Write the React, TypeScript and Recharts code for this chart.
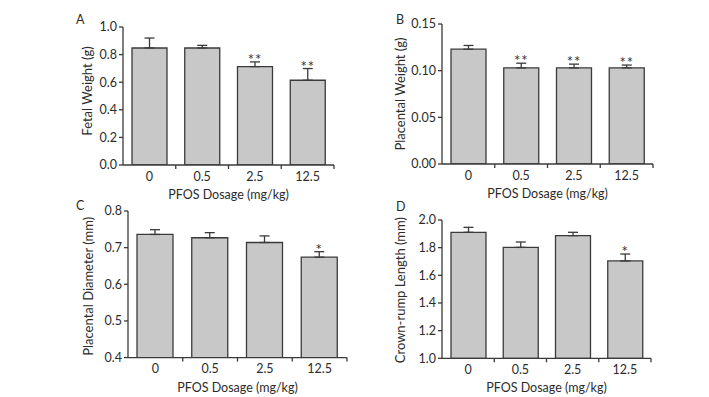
import React from 'react'
import { BarChart, Bar, XAxis, YAxis, ErrorBar, LabelList } from 'recharts'

// dose groups (mg/kg)
const doses = ['0', '0.5', '2.5', '12.5']

// A: fetal weight (g)
const fetalWeight = [0.848, 0.848, 0.713, 0.614]
const fetalWeightErr = [0.072, 0.019, 0.034, 0.085]
const fetalWeightSig = ['', '', '**', '**']

// B: placental weight (g)
const placentalWeight = [0.123, 0.103, 0.103, 0.103]
const placentalWeightErr = [0.004, 0.005, 0.004, 0.003]
const placentalWeightSig = ['', '**', '**', '**']

// C: placental diameter (mm)
const placentalDiameter = [0.736, 0.727, 0.714, 0.674]
const placentalDiameterErr = [0.013, 0.014, 0.018, 0.015]
const placentalDiameterSig = ['', '', '', '*']

// D: crown-rump length (mm)
const crownRump = [1.911, 1.802, 1.887, 1.704]
const crownRumpErr = [0.036, 0.039, 0.024, 0.05]
const crownRumpSig = ['', '', '', '*']

const ticksA = [0, 0.2, 0.4, 0.6, 0.8, 1.0]
const ticksB = [0, 0.05, 0.1, 0.15]
const ticksC = [0.4, 0.5, 0.6, 0.7, 0.8]
const ticksD = [1.0, 1.2, 1.4, 1.6, 1.8, 2.0]

const FONT = 'Lato, "Open Sans", sans-serif'
const INK = '#2b2b2b'
const AXIS = '#3a3a3a'
const Y_W = 60
const TOP = 10
const X_H = 42
const TICK_SIZE = 5
const TICK_MARGIN = 2

interface PanelProps {
  letter: string
  letterX: number
  letterY: number
  plotLeft: number
  plotRight: number
  plotTop: number
  plotBottom: number
  values: number[]
  errors: number[]
  sig: string[]
  ticks: number[]
  digits: number
  yLabel: string
  yLabelX: number
  yLabelShift: number
  barSize: number
}

const DoseTick = (props: any) => {
  const { x, y, payload, width, visibleTicksCount } = props
  const axisY = y - TICK_SIZE - TICK_MARGIN
  let half = payload && payload.offset ? payload.offset : 0
  if (!half && width && visibleTicksCount) half = width / visibleTicksCount / 2
  return (
    <g>
      <text x={x} y={y} dy="0.71em" textAnchor="middle" fill={INK} fontSize={12.5} fontFamily={FONT}>
        {payload.value}
      </text>
      {half > 0 && (
        <line x1={x + half} x2={x + half} y1={axisY} y2={axisY + 4} stroke={AXIS} strokeWidth={1.3} />
      )}
    </g>
  )
}

const Panel: React.FC<PanelProps> = (p) => {
  const plotW = p.plotRight - p.plotLeft
  const plotH = p.plotBottom - p.plotTop
  const width = plotW + Y_W + 10
  const height = TOP + plotH + X_H
  const min = p.ticks[0]
  const max = p.ticks[p.ticks.length - 1]
  const data = doses.map((d, i) => ({
    dose: d,
    value: p.values[i],
    err: [0, p.errors[i]],
    sig: p.sig[i],
  }))

  const renderSig = (lp: any) => {
    const { x, y, width: w, height: h, index } = lp
    const s = p.sig[index]
    if (!s) return null
    const v = p.values[index]
    const errTop = y - (p.errors[index] * h) / (v - min)
    return (
      <text
        x={x + w / 2}
        y={errTop + 3}
        textAnchor="middle"
        fill="#333"
        fontSize={15}
        fontFamily={FONT}
        letterSpacing={1}
      >
        {s}
      </text>
    )
  }

  const renderYLabel = (lp: any) => {
    const vb = lp.viewBox || {}
    const cx = (vb.x || 0) + p.yLabelX
    const cy = (vb.y || 0) + (vb.height || 0) / 2 + p.yLabelShift
    return (
      <text
        x={cx}
        y={cy}
        transform={`rotate(-90 ${cx} ${cy})`}
        textAnchor="middle"
        fill={INK}
        fontSize={13}
        fontFamily={FONT}
      >
        {p.yLabel}
      </text>
    )
  }

  return (
    <>
      <div
        style={{
          position: 'absolute',
          left: p.letterX,
          top: p.letterY,
          fontFamily: FONT,
          fontSize: 12.5,
          color: INK,
          lineHeight: '12px',
        }}
      >
        {p.letter}
      </div>
      <div style={{ position: 'absolute', left: p.plotLeft - Y_W, top: p.plotTop - TOP }}>
        <BarChart
          width={width}
          height={height}
          data={data}
          margin={{ top: TOP, right: 10, bottom: 0, left: 0 }}
        >
          <XAxis
            dataKey="dose"
            height={X_H}
            axisLine={{ stroke: AXIS, strokeWidth: 1.3 }}
            tickLine={false}
            tickSize={TICK_SIZE}
            tickMargin={TICK_MARGIN}
            tick={<DoseTick />}
            label={{
              value: 'PFOS Dosage (mg/kg)',
              position: 'insideBottom',
              offset: 8,
              style: { fontSize: 12.5, fontFamily: FONT, fill: INK },
            }}
          />
          <YAxis
            width={Y_W}
            domain={[min, max]}
            ticks={p.ticks}
            allowDataOverflow
            interval={0}
            tickFormatter={(v: number) => v.toFixed(p.digits)}
            axisLine={{ stroke: AXIS, strokeWidth: 1.3 }}
            tickLine={{ stroke: AXIS, strokeWidth: 1.3 }}
            tickSize={4}
            tickMargin={2}
            tick={{ fontSize: 12.5, fontFamily: FONT, fill: INK }}
            label={{ value: p.yLabel, content: renderYLabel }}
          />
          <Bar
            dataKey="value"
            fill="#c8c8c8"
            stroke={AXIS}
            strokeWidth={1.3}
            barSize={p.barSize}
            isAnimationActive={false}
          >
            <ErrorBar dataKey="err" width={5} stroke={AXIS} strokeWidth={1.3} isAnimationActive={false} />
            <LabelList dataKey="sig" content={renderSig} />
          </Bar>
        </BarChart>
      </div>
    </>
  )
}

export default function App() {
  return (
    <div
      style={{
        position: 'fixed',
        left: 0,
        top: 0,
        width: 709,
        height: 397,
        background: '#fff',
        overflow: 'hidden',
      }}
    >
      <Panel
        letter="A"
        letterX={76}
        letterY={14}
        plotLeft={123}
        plotRight={334}
        plotTop={27}
        plotBottom={165}
        values={fetalWeight}
        errors={fetalWeightErr}
        sig={fetalWeightSig}
        ticks={ticksA}
        digits={1}
        yLabel="Fetal Weight (g)"
        yLabelX={29}
        yLabelShift={-5}
        barSize={35}
      />
      <Panel
        letter="B"
        letterX={396}
        letterY={14}
        plotLeft={442}
        plotRight={653}
        plotTop={24}
        plotBottom={164}
        values={placentalWeight}
        errors={placentalWeightErr}
        sig={placentalWeightSig}
        ticks={ticksB}
        digits={2}
        yLabel="Placental Weight (g)"
        yLabelX={23}
        yLabelShift={0}
        barSize={35}
      />
      <Panel
        letter="C"
        letterX={76}
        letterY={200}
        plotLeft={128}
        plotRight={347}
        plotTop={210.7}
        plotBottom={357.3}
        values={placentalDiameter}
        errors={placentalDiameterErr}
        sig={placentalDiameterSig}
        ticks={ticksC}
        digits={1}
        yLabel="Placental Diameter (mm)"
        yLabelX={25}
        yLabelShift={2}
        barSize={36}
      />
      <Panel
        letter="D"
        letterX={396}
        letterY={201}
        plotLeft={442}
        plotRight={651}
        plotTop={220}
        plotBottom={358.3}
        values={crownRump}
        errors={crownRumpErr}
        sig={crownRumpSig}
        ticks={ticksD}
        digits={1}
        yLabel="Crown-rump Length (mm)"
        yLabelX={23}
        yLabelShift={1}
        barSize={35}
      />
    </div>
  )
}
